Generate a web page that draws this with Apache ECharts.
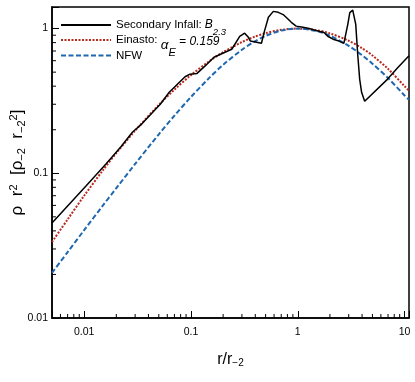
<!DOCTYPE html>
<html>
<head>
<meta charset="utf-8">
<script src="https://cdn.jsdelivr.net/npm/echarts@6/dist/echarts.min.js"></script>
<style>
html,body{margin:0;padding:0;background:#fff}
#chart{width:415px;height:382px}
</style>
</head>
<body>
<div id="chart"></div>
<script>
// radius grid used for the two fitted profiles (r / r_-2)
var modelR = [0.005, 0.007, 0.01, 0.015, 0.02, 0.03, 0.05, 0.07, 0.1, 0.15, 0.2, 0.3, 0.4, 0.5, 0.7, 1, 1.5, 2, 3, 4, 5, 7, 10, 11];
var einastoRho = [0.0335, 0.048, 0.070, 0.105, 0.138, 0.197, 0.297, 0.378, 0.477, 0.598, 0.687, 0.807, 0.882, 0.93, 0.98, 1.0, 0.975, 0.927, 0.824, 0.732, 0.652, 0.527, 0.40, 0.372];
var nfwRho = [0.0205, 0.0285, 0.0405, 0.060, 0.079, 0.116, 0.186, 0.25, 0.337, 0.46, 0.562, 0.714, 0.82, 0.89, 0.97, 1.0, 0.962, 0.893, 0.76, 0.655, 0.572, 0.455, 0.345, 0.322];

// secondary infall profile
var infallR = [0.005, 0.0104, 0.016, 0.022, 0.0284, 0.0337, 0.0516, 0.0626, 0.088, 0.098, 0.114, 0.135, 0.164, 0.241, 0.286, 0.318, 0.345, 0.36, 0.411, 0.457, 0.487, 0.531, 0.59, 0.656, 0.73, 0.814, 0.869, 0.966, 1.12, 1.28, 1.48, 1.76, 1.91, 2.18, 2.43, 2.70, 2.94, 3.07, 3.27, 3.35, 3.49, 3.64, 3.80, 3.96, 4.23, 6.9, 8.7, 11];
var infallRho = [0.0454, 0.0817, 0.116, 0.152, 0.193, 0.215, 0.30, 0.363, 0.465, 0.484, 0.49, 0.55, 0.634, 0.72, 0.885, 0.93, 0.87, 0.82, 0.805, 0.792, 0.957, 1.197, 1.315, 1.295, 1.25, 1.16, 1.105, 1.04, 1.02, 1.0, 0.97, 0.94, 0.885, 0.84, 0.82, 0.79, 1.07, 1.29, 1.34, 1.32, 1.07, 0.665, 0.446, 0.363, 0.315, 0.446, 0.54, 0.65];

var xMinorTicks = [0.006, 0.007, 0.008, 0.009, 0.02, 0.03, 0.04, 0.05, 0.06, 0.07, 0.08, 0.09, 0.2, 0.3, 0.4, 0.5, 0.6, 0.7, 0.8, 0.9, 2, 3, 4, 5, 6, 7, 8, 9];
var yMinorTicks = [0.02, 0.03, 0.04, 0.05, 0.06, 0.07, 0.08, 0.09, 0.2, 0.3, 0.4, 0.5, 0.6, 0.7, 0.8, 0.9];
var xLimits = [0.005, 11];
var yLimits = [0.01, 1.41];

var FONT = "'Liberation Sans', Arial, sans-serif";

function pairs(xs, ys) {
	return xs.map(function(x, i){ return [x, ys[i]]; });
}

function decadeLabel(v) {
	var e = Math.log10(v);
	if (Math.abs(e - Math.round(e)) > 1e-6) return '';
	return String(Math.pow(10, Math.round(e)));
}

function minorTicks(axis) {
	return function(params, api){
		var p = api.coord([api.value(0), api.value(1)]);
		var shape = axis == 'x'
			? {x1: p[0], y1: p[1], x2: p[0], y2: p[1] - 4}
			: {x1: p[0], y1: p[1], x2: p[0] + 4, y2: p[1]};
		return {type: 'line', shape: shape, style: {stroke: '#000', lineWidth: 1}};
	};
}

function legendRow(name, top, text, rich) {
	return {
		data: [name], left: 60, top: top, padding: 0,
		itemWidth: 50, itemHeight: 4, itemStyle: {opacity: 0},
		selectedMode: false,
		formatter: function(){ return text; },
		textStyle: {fontFamily: FONT, fontSize: 11.5, color: '#000', rich: rich}
	};
}

var t = {fontFamily: FONT, fontSize: 11.5, lineHeight: 15, color: '#000'};
function st(extra) { return Object.assign({}, t, extra); }

var chart = echarts.init(document.getElementById('chart'));
chart.setOption({
	animation: false,
	grid: {left: 48, right: 6, top: 7, bottom: 64, show: true, borderColor: '#000', borderWidth: 1.5},
	legend: [
		legendRow('Secondary Infall', 13, '{t|Secondary Infall: }{b|B}{s|2.3}', {
			t: t,
			b: st({fontSize: 12, fontStyle: 'italic'}),
			s: st({fontSize: 9.5, lineHeight: 10, fontStyle: 'italic', padding: [14, 0, 0, 0]})
		}),
		legendRow('Einasto', 21.5, '{t|Einasto: }{a|α}{e|E}{q| = 0.159}', {
			t: t,
			a: st({fontSize: 13.5, lineHeight: 14, fontStyle: 'italic', padding: [10, 0, 0, 0]}),
			e: st({fontSize: 11, lineHeight: 11, fontStyle: 'italic', padding: [26, 0, 0, 0]}),
			q: st({fontSize: 12, lineHeight: 13, fontStyle: 'italic', padding: [4, 0, 0, 0]})
		}),
		legendRow('NFW', 49.5, '{t|NFW}', {t: t})
	],
	xAxis: {
		type: 'log', min: xLimits[0], max: xLimits[1],
		name: '{t|r/r}{s|−2}', nameLocation: 'middle', nameGap: 33, nameMoveOverlap: false,
		nameTextStyle: {
			rich: {
				t: {fontFamily: FONT, fontSize: 16, lineHeight: 17, color: '#000'},
				s: {fontFamily: FONT, fontSize: 10, lineHeight: 10, color: '#000', padding: [8, 0, 0, 0]}
			}
		},
		axisLine: {show: true, lineStyle: {color: '#000', width: 1.5}},
		axisTick: {show: true, inside: true, length: 7, lineStyle: {color: '#000'}},
		splitLine: {show: false},
		axisLabel: {formatter: decadeLabel, fontFamily: FONT, fontSize: 10.5, color: '#000', margin: 9}
	},
	yAxis: {
		type: 'log', min: yLimits[0], max: yLimits[1],
		name: '{t|ρ  r}{p|2}{t|  [ρ}{s|−2}{t|  r}{s|−2}{p|2}{t|]}', nameLocation: 'middle', nameGap: 26, nameMoveOverlap: false,
		nameTextStyle: {
			rich: {
				t: {fontFamily: FONT, fontSize: 17, lineHeight: 17, color: '#000'},
				s: {fontFamily: FONT, fontSize: 11, lineHeight: 11, color: '#000', padding: [8, 0, 0, 0]},
				p: {fontFamily: FONT, fontSize: 11, lineHeight: 11, color: '#000', padding: [0, 0, 8, 0]}
			}
		},
		axisLine: {show: true, lineStyle: {color: '#000', width: 1.5}},
		axisTick: {show: true, inside: true, length: 7, lineStyle: {color: '#000'}},
		splitLine: {show: false},
		axisLabel: {formatter: decadeLabel, fontFamily: FONT, fontSize: 10.5, color: '#000', margin: 4}
	},
	series: [
		{
			name: 'Secondary Infall', type: 'line', data: pairs(infallR, infallRho),
			symbol: 'none', z: 4,
			lineStyle: {color: '#000', width: 1.5}, itemStyle: {color: '#000'}
		},
		{
			name: 'Einasto', type: 'line', data: pairs(modelR, einastoRho),
			symbol: 'none', smooth: 0.3, z: 3,
			lineStyle: {color: '#b8281c', width: 2, type: [2, 1.5]}, itemStyle: {color: '#b8281c'}
		},
		{
			name: 'NFW', type: 'line', data: pairs(modelR, nfwRho),
			symbol: 'none', smooth: 0.3, z: 3,
			lineStyle: {color: '#1f68b0', width: 2, type: [5, 2.5]}, itemStyle: {color: '#1f68b0'}
		},
		{
			type: 'custom', silent: true, clip: false, z: 5,
			data: xMinorTicks.map(function(v){ return [v, yLimits[0]]; }),
			renderItem: minorTicks('x')
		},
		{
			type: 'custom', silent: true, clip: false, z: 5,
			data: yMinorTicks.map(function(v){ return [xLimits[0], v]; }),
			renderItem: minorTicks('y')
		}
	]
});
</script>
</body>
</html>
